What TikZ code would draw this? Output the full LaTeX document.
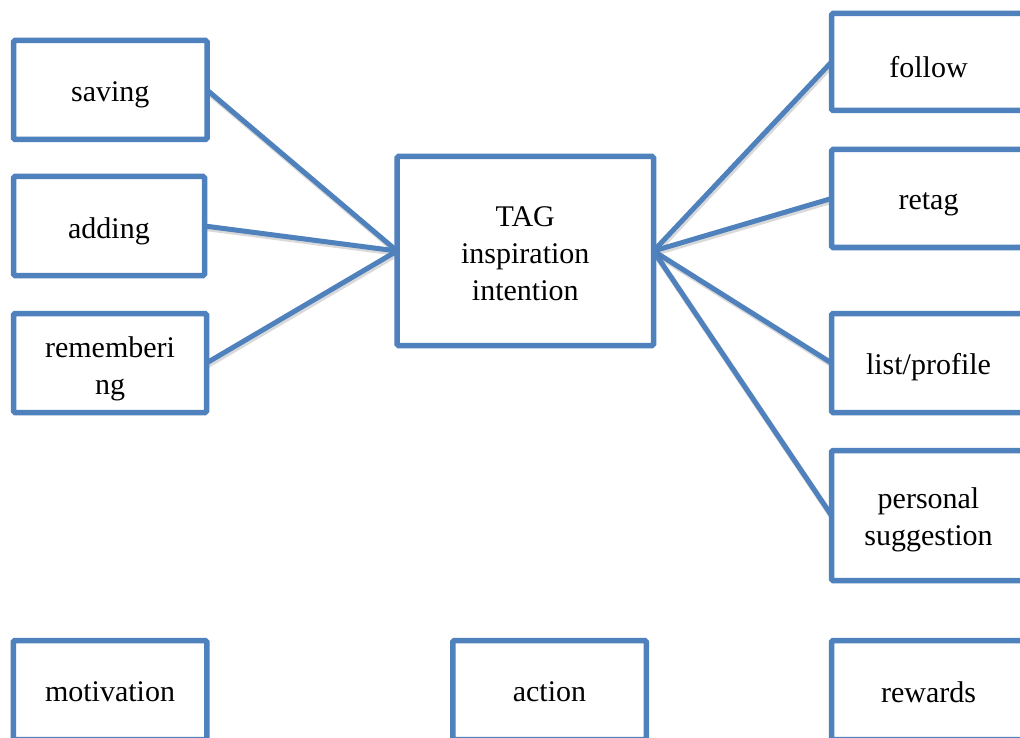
\documentclass[tikz,border=0pt]{standalone}
\usepackage{fontspec}
\setmainfont{Liberation Serif}
\usetikzlibrary{backgrounds}
\definecolor{boxblue}{HTML}{4F81BD}
\begin{document}
\begin{tikzpicture}[x=1pt,y=-1pt,
  box/.style={draw=boxblue, line width=5.5pt, rounded corners=1.5pt, fill=white,
    minimum width=193.5pt, minimum height=99pt, inner sep=0pt, outer sep=0pt},
  caption/.style 2 args={label={[align=center, font=\fontsize{30}{37}\selectfont,
    yshift=#1]center:#2}},
  link/.style={draw=boxblue, line width=5pt,
    preaction={draw=black, draw opacity=0.15, line width=6pt,
      transform canvas={shift={(1.2pt,-2pt)}}}}]
\useasboundingbox (0,0) rectangle (1020,738);

% left column
\node[box, caption={-5pt}{saving}] (saving) at (110.25,90) {};
\node[box, minimum width=191pt, caption={-5pt}{adding}] (adding) at (109,226) {};
\node[box, minimum width=193pt, caption={-6pt}{rememberi\\ng}] (remembering) at (110,363) {};

% central node
\node[box, minimum width=256.5pt, minimum height=189pt,
  caption={-3pt}{TAG\\inspiration\\intention}] (tag) at (525.25,251) {};

% right column
\node[box, minimum width=194pt, minimum height=97pt, caption={-5pt}{follow}] (follow) at (928.5,62) {};
\node[box, minimum width=194pt, minimum height=98pt, caption={-6pt}{retag}] (retag) at (928.5,198.5) {};
\node[box, minimum width=194pt, caption={-4pt}{list/profile}] (list) at (928.5,363) {};
\node[box, minimum width=194pt, minimum height=130pt,
  caption={-4pt}{personal\\suggestion}] (personal) at (928.5,515.5) {};

% bottom row
\node[box, caption={-2pt}{motivation}] (motivation) at (110,690) {};
\node[box, caption={-2pt}{action}] (action) at (549.5,690) {};
\node[box, minimum width=194pt, caption={-2pt}{rewards}] (rewards) at (928.5,690) {};

% white page and connectors behind the boxes
\begin{pgfonlayer}{background}
\fill[white] (0,0) rectangle (1020,738);
\draw[link] (saving.east) -- (tag.west);
\draw[link] (adding.east) -- (tag.west);
\draw[link] (remembering.east) -- (tag.west);
\draw[link] (tag.east) -- (follow.west);
\draw[link] (tag.east) -- (retag.west);
\draw[link] (tag.east) -- (list.west);
\draw[link] (tag.east) -- (personal.west);
\end{pgfonlayer}
\end{tikzpicture}
\end{document}
